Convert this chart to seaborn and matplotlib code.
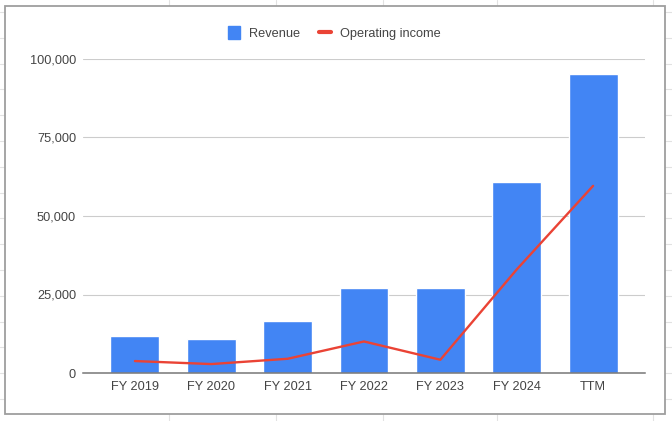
import pandas as pd
import matplotlib
matplotlib.use("Agg")
import matplotlib.pyplot as plt
from matplotlib.lines import Line2D
from matplotlib.patches import Patch, Rectangle
from matplotlib.ticker import FuncFormatter
import seaborn as sns

# data
years = ["FY 2019", "FY 2020", "FY 2021", "FY 2022", "FY 2023", "FY 2024", "TTM"]
revenue = [11716, 10918, 16675, 26914, 26974, 60922, 95300]
operating_income = [3804, 2846, 4532, 10041, 4224, 32972, 59600]
y_ticks = [0, 25000, 50000, 75000, 100000]

df = pd.DataFrame({"Year": years, "Revenue": revenue, "Operating income": operating_income})

BLUE = "#4285F4"
RED = "#EA4335"
TXT = "#444444"
FS = 9.2

sns.set_style("white")
plt.rcParams["font.family"] = ["Liberation Sans", "DejaVu Sans"]

W, H = 672, 421
fig = plt.figure(figsize=(W / 100, H / 100), dpi=100)

def fx(px):
    return px / W

def fy(py):
    return 1 - py / H

# spreadsheet background grid + chart frame
for yy in range(16):
    py = 12 + 25.8 * yy
    fig.add_artist(Line2D([0, 1], [fy(py), fy(py)], color="#e2e2e2", lw=0.8, zorder=0))
for px in [169, 276, 383, 497, 653]:
    fig.add_artist(Line2D([fx(px), fx(px)], [0, 1], color="#e2e2e2", lw=0.8, zorder=0))
fig.add_artist(Rectangle((fx(4.5), fy(414)), fx(665) - fx(4.5), fy(5.5) - fy(414),
                         facecolor="white", edgecolor="#9e9e9e", lw=1.3, zorder=1))

ax = fig.add_axes([fx(83), fy(373), fx(645) - fx(83), fy(59) - fy(373)])
ax.set_zorder(2)
ax.patch.set_alpha(0)

sns.barplot(data=df, x="Year", y="Revenue", color=BLUE, width=0.64,
            saturation=1, ax=ax, zorder=2)
sns.lineplot(data=df, x="Year", y="Operating income", color=RED, lw=1.7,
             sort=False, ax=ax, zorder=3)

ax.set_ylim(0, 100000)
ax.set_xlim(-0.68, 6.68)
ax.set_yticks(y_ticks)
ax.yaxis.set_major_formatter(FuncFormatter(lambda v, p: f"{int(v):,}"))
ax.grid(axis="y", color="#cccccc", lw=0.8)
ax.set_axisbelow(True)
ax.tick_params(axis="both", length=0, labelsize=FS, labelcolor=TXT)
ax.tick_params(axis="y", pad=5)
ax.tick_params(axis="x", pad=5.5)
ax.set_xlabel("")
ax.set_ylabel("")
for side in ["top", "right", "left"]:
    ax.spines[side].set_visible(False)
ax.spines["bottom"].set_color("#777777")
ax.spines["bottom"].set_linewidth(1.1)
ax.spines["bottom"].set_zorder(4)

handles = [Patch(facecolor=BLUE, edgecolor=BLUE, label="Revenue"),
           Line2D([0], [0], color=RED, lw=3, label="Operating income")]
leg = fig.legend(handles=handles, loc="center", bbox_to_anchor=(fx(334.5), fy(33)),
                 ncol=2, frameon=False, fontsize=FS, handlelength=0.95, handleheight=1.15,
                 columnspacing=1.5, handletextpad=0.7, labelcolor=TXT)
leg.set_zorder(5)

fig.savefig("out.png", dpi=100)
